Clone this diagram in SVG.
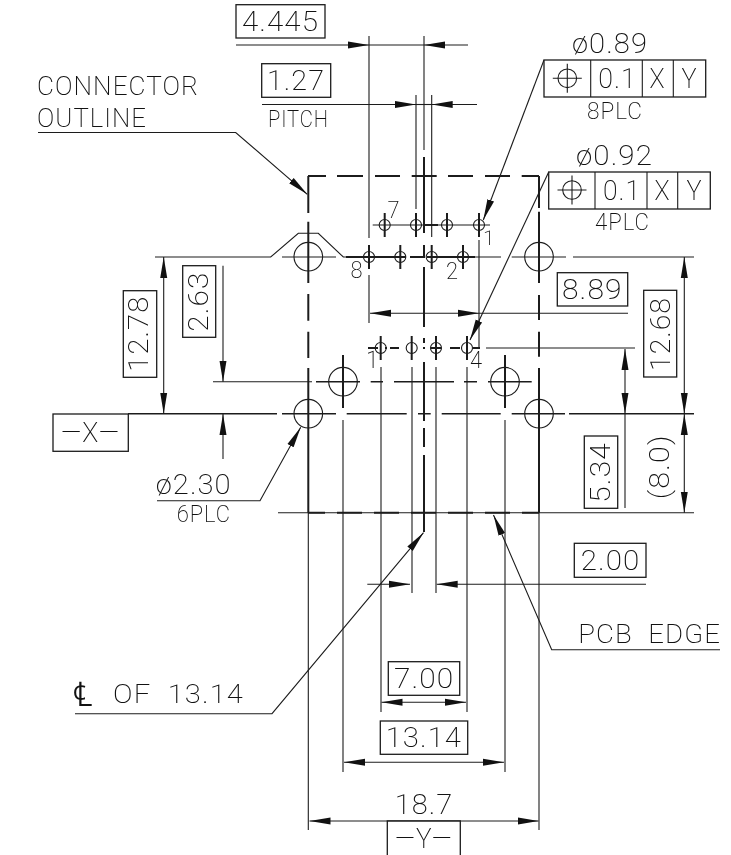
<svg xmlns="http://www.w3.org/2000/svg" xmlns:xlink="http://www.w3.org/1999/xlink" width="731" height="855" viewBox="0 0 731 855">
<style>
.t,.k,.b,.c,.m{fill:none;stroke:#1c1c1c}
.t{stroke-width:1.1}
.k{stroke-width:2}
.m{stroke-width:1.5}
.b{stroke-width:1.3;fill:#fff}
.c{stroke-width:1.1}
.ae{marker-end:url(#arr)}
.as{marker-start:url(#arr)}
#labels{opacity:.995}
text{font-family:"Roboto","Liberation Sans",sans-serif;font-weight:200;fill:#111;font-size:27px;letter-spacing:1px}
.s{font-size:23px}
.l{font-size:25px}
</style>
<defs>
<marker id="arr" markerUnits="userSpaceOnUse" markerWidth="22" markerHeight="9" viewBox="0 0 22 9" refX="21" refY="4.5" orient="auto-start-reverse"><path d="M0,1 L21,4.5 L0,8 Z" fill="#111"/></marker>
<g id="pin"><circle class="c" r="5.5"/><path class="k" d="M0,-12V12"/></g>
<g id="hole"><circle class="c" r="14.3"/></g>
<g id="pos"><circle class="c" r="9.3"/><path class="t" d="M-14.5,0H14.5M0,-14.5V14.5"/></g>
</defs>
<rect width="731" height="855" fill="#fff"/>
<g id="centerlines">
<path class="k" d="M308.3,176V213M308.3,221.7V283M308.3,294V320.7M308.3,331.7V358M308.3,368V512.7"/>
<path class="t" d="M308.3,512V830"/>
<path class="k" d="M539,176V208M539,211.7V283M539,295V320M539,331.7V356.7M539,368V512.7"/>
<path class="t" d="M539,512V830"/>
<path class="k" d="M308,176H326M337,176H363M375,176H400M411.7,176H436.7M448,176H473M485,176H510M521.7,176H539"/>
<path class="t" d="M278,512.7H694"/>
<path class="k" d="M308,512.7H325M337,512.7H362M374,512.7H399M411,512.7H436M448,512.7H473M485,512.7H510M522,512.7H539"/>
<path class="t" d="M155,257H270.7L298.3,233.3H318.3L343.3,257H363"/>
<path class="k" d="M346,257H406M410,257H423M427,257H475"/>
<path class="t" d="M475,257H501M282,257H336M511.7,257H566M573,257H694"/>
<path class="t" d="M372.7,225H490"/>
<path class="k" d="M425,225H438"/>
<path class="k" d="M368,348H378M385,348H387M390,348H399M423,348H425M431,348H441M450,348H460M466,348H468M473,348H480"/>
<path class="t" d="M486,348H635"/>
<path class="t" d="M213,381.7H312"/>
<path class="m" d="M316,381.7H360M370.7,381.7H383M394,381.7H454M464,381.7H477M488,381.7H531.7"/>
<path class="m" d="M128,413.7H277M282,413.7H336M346.7,413.7H406.7M418,413.7H430.7M441.7,413.7H500.7M511.7,413.7H565M569,413.7H694"/>
<path class="k" d="M343,355V408M505,355V408"/>
<path class="t" d="M343,420V772M505,420V772"/>
<path class="k" d="M424,157V233M424,245V258M424,267V327M424,338V343M424,347V349M424,362V421M424,428V447M424,455V532"/>
<path class="t" d="M424,36V150"/>
<path class="t" d="M369,36V238M369,275V323M416,95V209M431.7,95V237M479,240V348M381,367V712M467,367V712M412,367V593M436,367V593"/>
</g>
<g id="holes">
<use href="#hole" x="308.3" y="256.7"/><use href="#hole" x="539" y="256.7"/><use href="#hole" x="343" y="381.7"/><use href="#hole" x="505" y="381.7"/><use href="#hole" x="308.3" y="413.7"/><use href="#hole" x="539" y="413.7"/>
<use href="#pin" x="384.7" y="225"/><use href="#pin" x="416" y="225"/><use href="#pin" x="447" y="225"/><use href="#pin" x="479" y="225"/>
<use href="#pin" x="369" y="257"/><use href="#pin" x="400.3" y="257"/><use href="#pin" x="431.7" y="257"/><use href="#pin" x="463" y="257"/>
<use href="#pin" x="380.7" y="348"/><use href="#pin" x="411.7" y="348"/><use href="#pin" x="436" y="348"/><use href="#pin" x="467" y="348"/>
</g>
<g id="connectors">
<path class="t ae" d="M236,45H369"/><path class="t" d="M369,45H424"/><path class="t ae" d="M468,45H424"/>
<path class="t ae" d="M262,104.5H416"/><path class="t" d="M416,104.5H432"/><path class="t ae" d="M477,104.5H431.7"/>
<path class="t ae as" d="M370,313.3H479"/><path class="t" d="M479,313.3H628"/>
<path class="t ae" d="M38,132.5H235.7L307.3,194.3"/>
<path class="t ae as" d="M163.7,257V413.7"/>
<path class="t ae" d="M223,265.7V381.7"/><path class="t ae" d="M223,459V414"/>
<path class="t ae" d="M157,500.7H260L300.7,427.3"/>
<path class="t ae" d="M544,60L483.3,220"/>
<path class="t ae" d="M548.7,172L470,340"/>
<path class="t ae as" d="M625,349V413.7"/><path class="t" d="M625,413.7V508"/>
<path class="t ae as" d="M684.3,257V413.7"/><path class="t ae as" d="M684.3,414V512.7"/>
<path class="t ae" d="M367.3,584.3H410"/><path class="t ae" d="M646,584.3H436.7"/>
<path class="t ae as" d="M381.5,702.3H466"/>
<path class="t ae as" d="M344,762.3H504"/>
<path class="t ae as" d="M309.5,821H538.5"/>
<path class="t ae" d="M75,713.7H272L423.5,532.7"/>
<path class="t ae" d="M720,649.7H551.7L493.5,515"/>
</g>
<g id="frames">
<rect class="b" x="236" y="4.7" width="89" height="33.3"/>
<rect class="b" x="261.7" y="63.7" width="69" height="33.6"/>
<rect class="b" x="544" y="60" width="161.7" height="37"/>
<rect class="b" x="548.7" y="172" width="161.6" height="37"/>
<rect class="b" x="53" y="414" width="75.3" height="37.3"/>
<rect class="b" x="123.3" y="290.7" width="33.4" height="86.6"/>
<rect class="b" x="182.7" y="265.7" width="33" height="71.6"/>
<rect class="b" x="557.3" y="272.7" width="70.4" height="33.3"/>
<rect class="b" x="643.7" y="290.3" width="33" height="86.7"/>
<rect class="b" x="584.3" y="436" width="33.4" height="72.3"/>
<rect class="b" x="574.3" y="543.3" width="71.7" height="34"/>
<rect class="b" x="388.3" y="661.7" width="71.4" height="33.6"/>
<rect class="b" x="380.3" y="721" width="87.4" height="33.3"/>
<path class="b" d="M387.3,855V821H460.3V855"/>
<path class="t" d="M590.7,60V97M642.3,60V97M673.3,60V97M595,172V209M647,172V209M677.7,172V209"/>
<use href="#pos" x="567.3" y="78.3"/><use href="#pos" x="572" y="190"/>
</g>
<g id="labels">
<text x="242" y="31" textLength="77" lengthAdjust="spacingAndGlyphs">4.445</text>
<text x="267" y="90" textLength="58" lengthAdjust="spacingAndGlyphs">1.27</text>
<text class="s" x="268" y="126.7" textLength="61" lengthAdjust="spacingAndGlyphs">PITCH</text>
<text class="l" x="37" y="95" textLength="162" lengthAdjust="spacingAndGlyphs">CONNECTOR</text>
<text class="l" x="37" y="126.7" textLength="110" lengthAdjust="spacingAndGlyphs">OUTLINE</text>
<text x="572" y="52.7" textLength="76" lengthAdjust="spacingAndGlyphs">ø0.89</text>
<text x="598.3" y="88.3" textLength="38.4" lengthAdjust="spacingAndGlyphs">0.1</text>
<text x="649.5" y="88.3" textLength="16" lengthAdjust="spacingAndGlyphs">X</text><text x="681.5" y="88.3" textLength="16" lengthAdjust="spacingAndGlyphs">Y</text>
<text class="s" x="587" y="119.3" textLength="56" lengthAdjust="spacingAndGlyphs">8PLC</text>
<text x="576" y="165" textLength="77" lengthAdjust="spacingAndGlyphs">ø0.92</text>
<text x="603" y="200" textLength="38" lengthAdjust="spacingAndGlyphs">0.1</text>
<text x="654.5" y="200" textLength="16" lengthAdjust="spacingAndGlyphs">X</text><text x="686.5" y="200" textLength="16" lengthAdjust="spacingAndGlyphs">Y</text>
<text class="s" x="595" y="230" textLength="55" lengthAdjust="spacingAndGlyphs">4PLC</text>
<text class="s" x="387.5" y="218" textLength="13" lengthAdjust="spacingAndGlyphs">7</text>
<text class="s" x="350.5" y="278" textLength="13" lengthAdjust="spacingAndGlyphs">8</text>
<text class="s" x="446" y="279" textLength="13" lengthAdjust="spacingAndGlyphs">2</text>
<text class="s" x="483" y="245" style="font-size:21px">1</text>
<text class="s" x="366" y="368">1</text>
<text class="s" x="470" y="368" textLength="13" lengthAdjust="spacingAndGlyphs">4</text>
<text x="61" y="442.3" textLength="59" lengthAdjust="spacingAndGlyphs">—X—</text>
<text transform="translate(148.3,371.7) rotate(-90)" textLength="76" lengthAdjust="spacingAndGlyphs">12.78</text>
<text transform="translate(208.3,331.7) rotate(-90)" textLength="60" lengthAdjust="spacingAndGlyphs">2.63</text>
<text x="562" y="299" textLength="60.7" lengthAdjust="spacingAndGlyphs">8.89</text>
<text transform="translate(670,371) rotate(-90)" textLength="74" lengthAdjust="spacingAndGlyphs">12.68</text>
<text transform="translate(669.3,499.3) rotate(-90)" textLength="65" lengthAdjust="spacingAndGlyphs">(8.0)</text>
<text transform="translate(610,502.7) rotate(-90)" textLength="60.4" lengthAdjust="spacingAndGlyphs">5.34</text>
<text x="155.7" y="494" textLength="76" lengthAdjust="spacingAndGlyphs">ø2.30</text>
<text class="s" x="176.7" y="521.7" textLength="54.3" lengthAdjust="spacingAndGlyphs">6PLC</text>
<text x="580.7" y="570" textLength="59.6" lengthAdjust="spacingAndGlyphs">2.00</text>
<text x="394" y="687.7" textLength="60.3" lengthAdjust="spacingAndGlyphs">7.00</text>
<text x="385.7" y="747.3" textLength="76.3" lengthAdjust="spacingAndGlyphs">13.14</text>
<text x="394.7" y="814" textLength="58.6" lengthAdjust="spacingAndGlyphs">18.7</text>
<text x="395" y="848.3" textLength="57.7" lengthAdjust="spacingAndGlyphs">—Y—</text>
<text class="l" x="578.3" y="643.3" textLength="142.7" xml:space="preserve" lengthAdjust="spacingAndGlyphs">PCB  EDGE</text>
<text x="73" y="706" style="font-family:'DejaVu Sans',sans-serif;font-size:34px;letter-spacing:0">℄</text>
<text class="l" x="113" y="703.3" textLength="131" xml:space="preserve" lengthAdjust="spacingAndGlyphs">OF  13.14</text>
</g>
</svg>
